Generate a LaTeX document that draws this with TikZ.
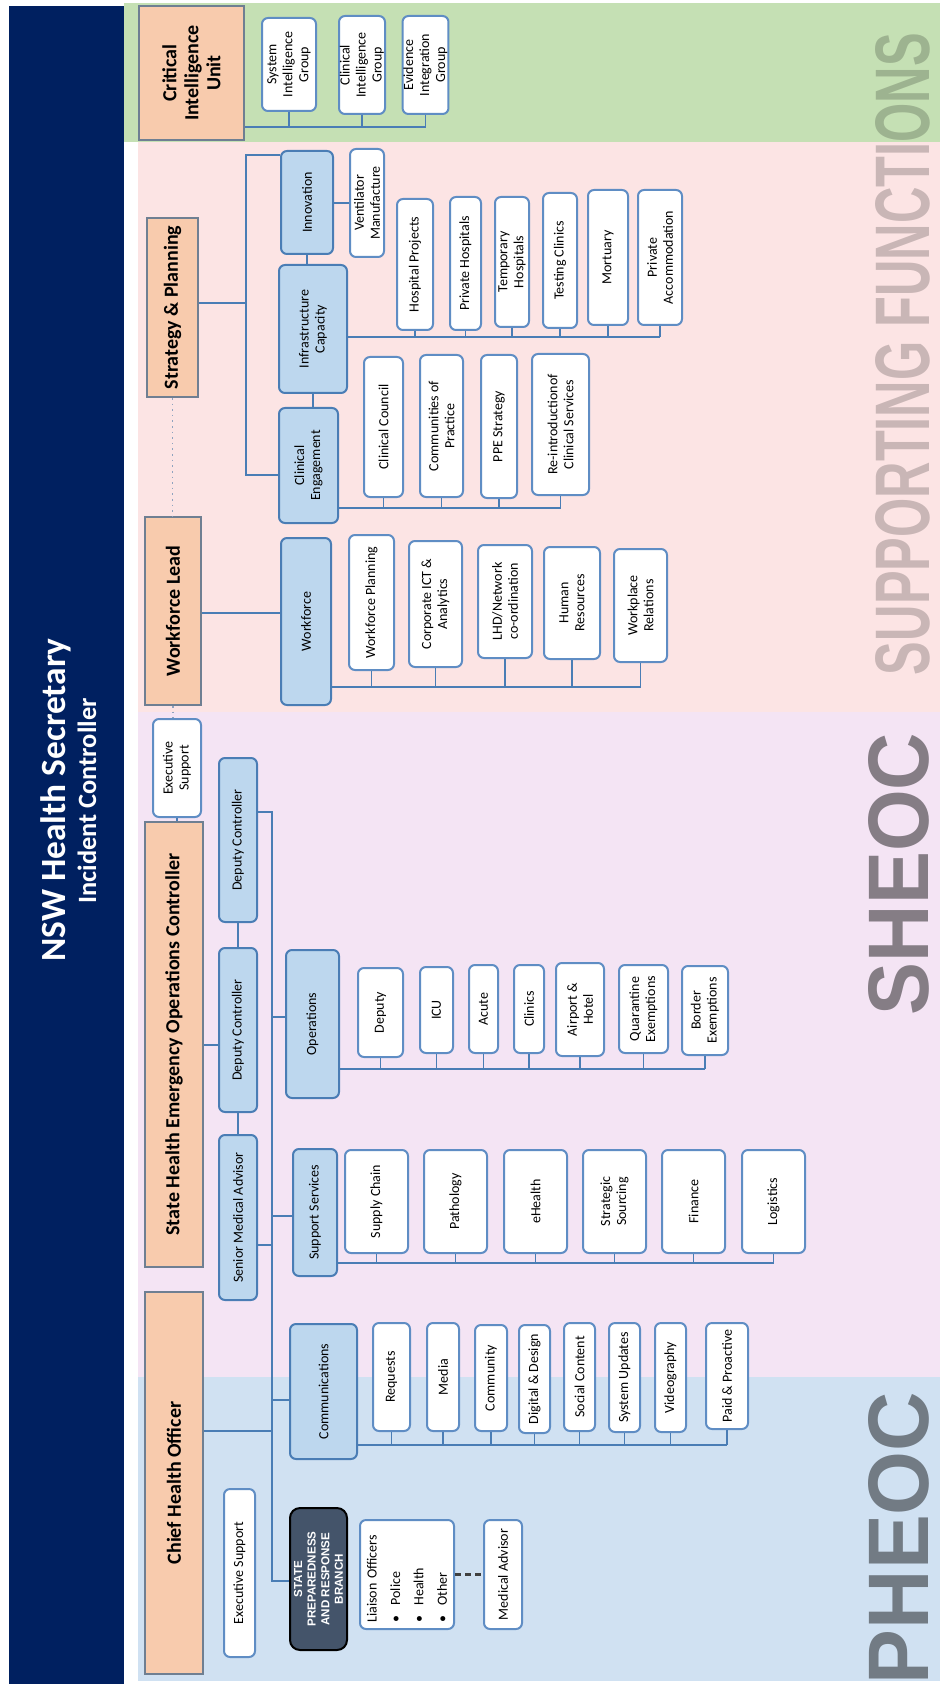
\documentclass[tikz,border=0pt]{standalone}
\usepackage{fontspec}
\setmainfont{Carlito}
\newfontfamily\wmfont{Liberation Sans}
\usepackage{graphicx}
\definecolor{navy}{HTML}{002060}
\definecolor{sfgreen}{HTML}{C5E0B4}
\definecolor{sfpink}{HTML}{FCE4E4}
\definecolor{sheocbg}{HTML}{F4E4F4}
\definecolor{pheocbg}{HTML}{D0E1F2}
\definecolor{hdrfill}{HTML}{F8CBAD}
\definecolor{hdrline}{HTML}{6F7F92}
\definecolor{lbfill}{HTML}{BDD7EE}
\definecolor{lbline}{HTML}{4A7DB5}
\definecolor{wbline}{HTML}{5F8DC4}
\definecolor{connline}{HTML}{4A7DB5}
\definecolor{statefill}{HTML}{44546A}
\definecolor{dotline}{HTML}{8FA3BF}
\begin{document}
\begin{tikzpicture}[x=0.5pt,y=-0.5pt]
	\def \ciubus{127}
	\def \snpbus{246}
	\def \infbus{337}
	\def \cebus{508}
	\def \wfbus{687}
	\def \mainbus{272}
	\def \opsbus{1069}
	\def \supbus{1263}
	\def \combus{1445}
	\tikzstyle{hbox}=[draw=hdrline,fill=hdrfill,line width=1.1pt,rotate=90,inner sep=1pt,align=center,font=\fontsize{10}{11}\selectfont\bfseries]
	\tikzstyle{lbox}=[draw=lbline,fill=lbfill,rounded corners=3pt,line width=1pt,rotate=90,inner sep=0.5pt,align=center,font=\fontsize{7}{8}\selectfont]
	\tikzstyle{wbox}=[draw=wbline,fill=white,rounded corners=3pt,line width=1pt,rotate=90,inner sep=0.5pt,align=center,font=\fontsize{7}{8}\selectfont]
	\tikzstyle{sbox}=[draw=black,fill=statefill,rounded corners=5pt,line width=1pt,rotate=90,inner sep=0.5pt,align=center,text=white,font=\wmfont\fontsize{5.8}{6.8}\selectfont\bfseries]
	\tikzstyle{ttl}=[rotate=90,text=white,inner sep=0pt,anchor=base]
	\tikzstyle{wmark}=[rotate=90,inner sep=0pt,anchor=north]
	\tikzstyle{conn}=[draw=connline,line width=0.8pt]
	\tikzstyle{dotl}=[draw=dotline,line width=0.8pt,dotted]
	\tikzstyle{dashl}=[draw=black!75,line width=1.2pt,densely dashed]

	\clip (0,0) rectangle (940,1684);
	\fill[white] (0,0) rectangle (940,1684);
	% areas
	\fill[sfgreen] (124,3) rectangle (940,142);
	\fill[sfpink] (138,142) rectangle (940,712);
	\fill[sheocbg] (138,712) rectangle (940,1377);
	\fill[pheocbg] (138,1377) rectangle (940,1681);
	\fill[navy] (9,6) rectangle (124,1684);

	\node[wmark,text opacity=0.2] (sfmark) at (875,354) {\resizebox{321pt}{27pt}{\wmfont\bfseries SUPPORTING FUNCTIONS}};
	\node[wmark,text opacity=0.45] (shmark) at (868,874) {\resizebox{141pt}{30pt}{\wmfont\bfseries SHEOC}};
	\node[wmark,text opacity=0.45] (phmark) at (868,1538) {\resizebox{146pt}{30pt}{\wmfont\bfseries PHEOC}};

	% secretary
	\node[ttl,font=\fontsize{17.7}{20}\selectfont\bfseries] (nsw) at (65,800) {NSW Health Secretary};
	\node[ttl,font=\fontsize{13.2}{15}\selectfont\bfseries] (incc) at (96,801) {Incident Controller};

	% critical intelligence
	\node[hbox,minimum width=67pt,minimum height=52.5pt] (ciu) at (191.5,73) {Critical\\Intelligence\\Unit};
	\node[wbox,minimum width=46.5pt,minimum height=27pt] (sig) at (289,64.5) {System\\Intelligence\\Group};
	\node[wbox,minimum width=49pt,minimum height=23pt] (cig) at (362,65) {Clinical\\Intelligence\\Group};
	\node[wbox,minimum width=49pt,minimum height=22.5pt] (eig) at (425.5,65) {Evidence\\Integration\\Group};

	% strategy and planning
	\node[hbox,minimum width=89.5pt,minimum height=25.5pt] (snp) at (172.5,307.5) {Strategy \& Planning};
	\node[lbox,minimum width=51.5pt,minimum height=26pt] (innov) at (307,202.5) {Innovation};
	\node[lbox,minimum width=64pt,minimum height=34pt] (infra) at (313,329) {Infrastructure\\Capacity};
	\node[lbox,minimum width=57.5pt,minimum height=29.5pt] (ceng) at (308.5,465.5) {Clinical\\Engagement};
	\node[wbox,minimum width=54pt,minimum height=17pt] (vent) at (367,203) {Ventilator\\Manufacture};
	\node[wbox,minimum width=65.5pt,minimum height=18pt] (hosp) at (415,264.5) {Hospital Projects};
	\node[wbox,minimum width=66.5pt,minimum height=15.5pt] (phosp) at (465.5,263.5) {Private Hospitals};
	\node[wbox,minimum width=65pt,minimum height=17pt] (thosp) at (512,262) {Temporary\\Hospitals};
	\node[wbox,minimum width=67.5pt,minimum height=17pt] (tclin) at (560,260.5) {Testing Clinics};
	\node[wbox,minimum width=67.5pt,minimum height=20pt] (mort) at (608,257.5) {Mortuary};
	\node[wbox,minimum width=67.5pt,minimum height=22pt] (paccom) at (660,257.5) {Private\\Accommodation};
	\node[wbox,minimum width=70pt,minimum height=19.5pt] (ccoun) at (383.5,427) {Clinical Council};
	\node[wbox,minimum width=71pt,minimum height=21.5pt] (cop) at (441.5,426) {Communities of\\Practice};
	\node[wbox,minimum width=71.5pt,minimum height=18pt] (ppe) at (499,426.5) {PPE Strategy};
	\node[wbox,minimum width=70.5pt,minimum height=28.5pt] (reint) at (560.5,424.5) {Re-introductionof\\Clinical Services};

	% workforce
	\node[hbox,minimum width=94pt,minimum height=28pt] (wfl) at (173,611) {Workforce Lead};
	\node[lbox,minimum width=83.5pt,minimum height=25pt] (wf) at (306,621.5) {Workforce};
	\node[wbox,minimum width=67.5pt,minimum height=22.5pt] (wfp) at (371.5,602.5) {Workforce Planning};
	\node[wbox,minimum width=63pt,minimum height=26.5pt] (cict) at (435.5,604) {Corporate ICT \&\\Analytics};
	\node[wbox,minimum width=56.5pt,minimum height=27pt] (lhd) at (505,601.5) {LHD/Network\\co-ordination};
	\node[wbox,minimum width=56pt,minimum height=28pt] (hr) at (572,603) {Human\\Resources};
	\node[wbox,minimum width=56.5pt,minimum height=26.5pt] (wpr) at (640.5,605.5) {Workplace\\Relations};

	% sheoc
	\node[wbox,minimum width=49pt,minimum height=24pt] (exs) at (177,768) {Executive\\Support};
	\node[hbox,minimum width=222.5pt,minimum height=29pt] (sheoc) at (174,1044.5) {State Health Emergency Operations Controller};
	\node[lbox,minimum width=82pt,minimum height=19pt] (dc1) at (238,840) {Deputy Controller};
	\node[lbox,minimum width=82pt,minimum height=19pt] (dc2) at (238,1030) {Deputy Controller};
	\node[lbox,minimum width=82.5pt,minimum height=19pt] (sma) at (238,1217.5) {Senior Medical Advisor};
	\node[lbox,minimum width=74pt,minimum height=26.5pt] (ops) at (312.5,1024) {Operations};
	\node[wbox,minimum width=44.5pt,minimum height=22.5pt] (opdep) at (380.5,1012.5) {Deputy};
	\node[wbox,minimum width=43pt,minimum height=16.5pt] (icu) at (436.5,1010) {ICU};
	\node[wbox,minimum width=44pt,minimum height=14.5pt] (acute) at (483.5,1009) {Acute};
	\node[wbox,minimum width=44pt,minimum height=15pt] (clin) at (529,1009) {Clinics};
	\node[wbox,minimum width=46.5pt,minimum height=24pt] (airp) at (580,1009.5) {Airport \&\\Hotel};
	\node[wbox,minimum width=44pt,minimum height=24.5pt] (quar) at (643.5,1009) {Quarantine\\Exemptions};
	\node[wbox,minimum width=44.5pt,minimum height=23pt] (bord) at (705,1010.5) {Border\\Exemptions};
	\node[lbox,minimum width=63.5pt,minimum height=22pt] (sup) at (315,1212.5) {Support Services};
	\node[wbox,minimum width=51.5pt,minimum height=31.5pt] (supch) at (376.5,1201.5) {Supply Chain};
	\node[wbox,minimum width=51.5pt,minimum height=31.5pt] (path) at (455.5,1201.5) {Pathology};
	\node[wbox,minimum width=51.5pt,minimum height=31.5pt] (ehl) at (535.5,1201.5) {eHealth};
	\node[wbox,minimum width=51.5pt,minimum height=31.5pt] (strs) at (614.5,1201.5) {Strategic\\Sourcing};
	\node[wbox,minimum width=51.5pt,minimum height=31.5pt] (fin) at (693.5,1201.5) {Finance};
	\node[wbox,minimum width=51.5pt,minimum height=31.5pt] (logi) at (773.5,1201.5) {Logistics};

	% pheoc
	\node[hbox,minimum width=191pt,minimum height=29pt] (cho) at (174,1483) {Chief Health Officer};
	\node[lbox,minimum width=67.5pt,minimum height=33.5pt] (comms) at (323.5,1391.5) {Communications};
	\node[wbox,minimum width=54pt,minimum height=18.5pt] (req) at (391.5,1377) {Requests};
	\node[wbox,minimum width=54pt,minimum height=16pt] (media) at (443,1377) {Media};
	\node[wbox,minimum width=53pt,minimum height=16pt] (commu) at (491,1378) {Community};
	\node[wbox,minimum width=54pt,minimum height=15.5pt] (digi) at (534.5,1379) {Digital \& Design};
	\node[wbox,minimum width=54pt,minimum height=15.5pt] (soc) at (579.5,1377) {Social Content};
	\node[wbox,minimum width=54.5pt,minimum height=15.5pt] (sysu) at (624.5,1377.5) {System Updates};
	\node[wbox,minimum width=54.5pt,minimum height=15.5pt] (video) at (670.5,1377.5) {Videography};
	\node[wbox,minimum width=53pt,minimum height=21pt] (paid) at (727,1376) {Paid \& Proactive};
	\node[sbox,minimum width=71pt,minimum height=28.5pt] (state) at (318.5,1579) {STATE\\PREPAREDNESS\\AND RESPONSE\\BRANCH};
	\node[wbox,minimum width=84pt,minimum height=15.5pt] (pexs) at (239.5,1573) {Executive Support};
	\node[wbox,minimum width=54.5pt,minimum height=47pt,align=left,text width=48pt,inner xsep=3pt,font=\fontsize{7}{11.7}\selectfont] (liai) at (407,1574.5) {Liaison Officers\\\textbullet\hspace{5pt}Police\\\textbullet\hspace{5pt}Health\\\textbullet\hspace{5pt}Other};
	\node[wbox,minimum width=54.5pt,minimum height=19pt] (medad) at (503,1574.5) {Medical Advisor};

	% critical intelligence links
	\draw[conn] (ciu.south |- 0,\ciubus) -- (eig.west |- 0,\ciubus);
	\path[conn]
		(sig.west)	edge	(sig.west |- 0,\ciubus)
		(cig.west)	edge	(cig.west |- 0,\ciubus)
		(eig.west)	edge	(eig.west |- 0,\ciubus);

	% strategy links
	\draw[conn] (snp.south |- 0,303) -- (\snpbus,303);
	\draw[conn] (innov.north |- 0,155) -| (\snpbus,475) -- (ceng.north |- 0,475);
	\draw[conn] (innov.west) -- (innov.west |- infra.east);
	\draw[conn] (infra.west) -- (infra.west |- ceng.east);
	\draw[conn] (innov.south |- 0,203) -- (vent.north |- 0,203);
	\draw[conn] (infra.south |- 0,\infbus) -- (paccom.west |- 0,\infbus);
	\path[conn]
		(hosp.west)	edge	(hosp.west |- 0,\infbus)
		(phosp.west)	edge	(phosp.west |- 0,\infbus)
		(thosp.west)	edge	(thosp.west |- 0,\infbus)
		(tclin.west)	edge	(tclin.west |- 0,\infbus)
		(mort.west)	edge	(mort.west |- 0,\infbus)
		(paccom.west)	edge	(paccom.west |- 0,\infbus);
	\draw[conn] (ceng.south |- 0,\cebus) -- (reint.west |- 0,\cebus);
	\path[conn]
		(ccoun.west)	edge	(ccoun.west |- 0,\cebus)
		(cop.west)	edge	(cop.west |- 0,\cebus)
		(ppe.west)	edge	(ppe.west |- 0,\cebus)
		(reint.west)	edge	(reint.west |- 0,\cebus);

	% workforce links
	\draw[conn] (wfl.south |- 0,613) -- (wf.north |- 0,613);
	\draw[conn] (wf.south |- 0,\wfbus) -- (wpr.west |- 0,\wfbus);
	\path[conn]
		(wfp.west)	edge	(wfp.west |- 0,\wfbus)
		(cict.west)	edge	(cict.west |- 0,\wfbus)
		(lhd.west)	edge	(lhd.west |- 0,\wfbus)
		(hr.west)	edge	(hr.west |- 0,\wfbus)
		(wpr.west)	edge	(wpr.west |- 0,\wfbus);

	\draw[dotl] (snp.west) -- (snp.west |- wfl.east);
	\draw[dotl] (wfl.west) -- (wfl.west |- exs.east);
	\draw[conn] (exs.west) -- (exs.west |- sheoc.east);

	% sheoc links
	\draw[conn] (sheoc.south |- 0,1045) -- (dc2.north |- 0,1045);
	\draw[conn] (dc1.west) -- (dc2.east);
	\draw[conn] (dc2.west) -- (sma.east);
	\draw[conn] (dc1.south |- 0,812) -- (\mainbus,812) -- (\mainbus,1581) -- (state.north |- 0,1581);
	\draw[conn] (sma.south |- 0,1245) -- (\mainbus,1245);
	\draw[conn] (cho.south |- 0,1431) -- (\mainbus,1431);
	\draw[conn] (\mainbus,1017) -- (ops.north |- 0,1017);
	\draw[conn] (\mainbus,1216) -- (sup.north |- 0,1216);
	\draw[conn] (\mainbus,1400) -- (comms.north |- 0,1400);

	\draw[conn] (ops.south |- 0,\opsbus) -- (bord.west |- 0,\opsbus);
	\path[conn]
		(opdep.west)	edge	(opdep.west |- 0,\opsbus)
		(icu.west)	edge	(icu.west |- 0,\opsbus)
		(acute.west)	edge	(acute.west |- 0,\opsbus)
		(clin.west)	edge	(clin.west |- 0,\opsbus)
		(airp.west)	edge	(airp.west |- 0,\opsbus)
		(quar.west)	edge	(quar.west |- 0,\opsbus)
		(bord.west)	edge	(bord.west |- 0,\opsbus);
	\draw[conn] (sup.south |- 0,\supbus) -- (logi.west |- 0,\supbus);
	\path[conn]
		(supch.west)	edge	(supch.west |- 0,\supbus)
		(path.west)	edge	(path.west |- 0,\supbus)
		(ehl.west)	edge	(ehl.west |- 0,\supbus)
		(strs.west)	edge	(strs.west |- 0,\supbus)
		(fin.west)	edge	(fin.west |- 0,\supbus)
		(logi.west)	edge	(logi.west |- 0,\supbus);

	% pheoc links
	\draw[conn] (comms.south |- 0,\combus) -- (paid.west |- 0,\combus);
	\path[conn]
		(req.west)	edge	(req.west |- 0,\combus)
		(media.west)	edge	(media.west |- 0,\combus)
		(commu.west)	edge	(commu.west |- 0,\combus)
		(digi.west)	edge	(digi.west |- 0,\combus)
		(soc.west)	edge	(soc.west |- 0,\combus)
		(sysu.west)	edge	(sysu.west |- 0,\combus)
		(video.west)	edge	(video.west |- 0,\combus)
		(paid.west)	edge	(paid.west |- 0,\combus);
	\draw[dashl] (liai.south) -- (medad.north);
\end{tikzpicture}
\end{document}
